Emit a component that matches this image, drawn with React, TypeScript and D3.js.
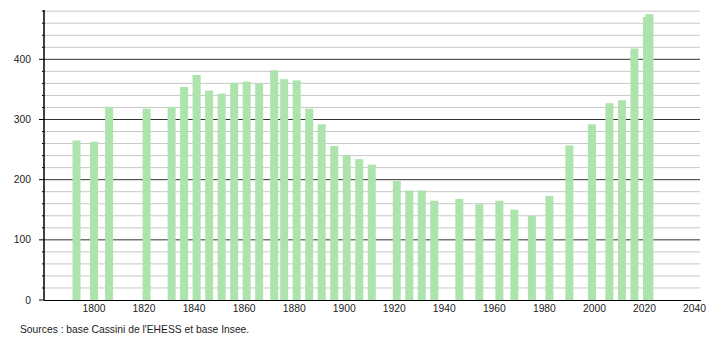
import React from "react";
import * as d3 from "d3";

const years = [1793, 1800, 1806, 1821, 1831, 1836, 1841, 1846, 1851, 1856, 1861, 1866, 1872, 1876, 1881, 1886, 1891, 1896, 1901, 1906, 1911, 1921, 1926, 1931, 1936, 1946, 1954, 1962, 1968, 1975, 1982, 1990, 1999, 2006, 2011, 2016, 2021, 2022];
const population = [265, 263, 321, 318, 321, 354, 374, 348, 343, 361, 363, 359, 382, 367, 365, 318, 292, 256, 240, 234, 225, 198, 182, 182, 165, 168, 159, 165, 150, 140, 173, 257, 292, 327, 332, 418, 470, 475];
const xTicks = [1800, 1820, 1840, 1860, 1880, 1900, 1920, 1940, 1960, 1980, 2000, 2020, 2040];
const yMajor = [0, 100, 200, 300, 400];
const sourceText = "Sources : base Cassini de l'EHESS et base Insee.";

export default function App() {
  const W = 710, H = 340;
  const x = d3.scaleLinear().domain([1780, 2042]).range([44, 699.5]);
  const y = d3.scaleLinear().domain([0, 480]).range([300, 11.2]);
  const minor = d3.range(20, 481, 20).filter((v) => v % 100 !== 0);
  const barW = 8;
  const font = "'Liberation Sans', Arial, sans-serif";
  return (
    <svg width={W} height={H} style={{ position: "absolute", left: 0, top: 0, background: "#fff" }}>
      {minor.map((v) => (
        <g key={"m" + v}>
          <line x1={44} x2={700} y1={y(v)} y2={y(v)} stroke="#c8c8c8" strokeWidth={1} />
          <line x1={42} x2={44} y1={y(v)} y2={y(v)} stroke="#000" strokeWidth={1} />
        </g>
      ))}
      {yMajor.filter((v) => v > 0).map((v) => (
        <line key={"M" + v} x1={44} x2={700} y1={y(v)} y2={y(v)} stroke="#333" strokeWidth={1} />
      ))}
      {years.map((yr, i) => (
        <rect key={yr} x={x(yr) - barW / 2} y={y(population[i])} width={barW} height={y(0) - y(population[i])} fill="#ade3ad" />
      ))}
      {yMajor.map((v) => (
        <g key={"t" + v}>
          <line x1={39} x2={44} y1={y(v)} y2={y(v)} stroke="#000" strokeWidth={1} />
          <text x={31} y={y(v)} dy="0.35em" textAnchor="end" fontFamily={font} fontSize={10.3} fill="#222">{v}</text>
        </g>
      ))}
      <line x1={44} x2={44} y1={10} y2={300} stroke="#000" strokeWidth={1.5} />
      <line x1={44} x2={701} y1={300.5} y2={300.5} stroke="#000" strokeWidth={1} />
      {xTicks.map((t) => (
        <text key={t} x={x(t)} y={308} dy="0.35em" textAnchor="middle" fontFamily={font} fontSize={10.3} fill="#222">{t}</text>
      ))}
      <text x={20} y={329} dy="0.35em" fontFamily={font} fontSize={10.3} fill="#222">{sourceText}</text>
    </svg>
  );
}
